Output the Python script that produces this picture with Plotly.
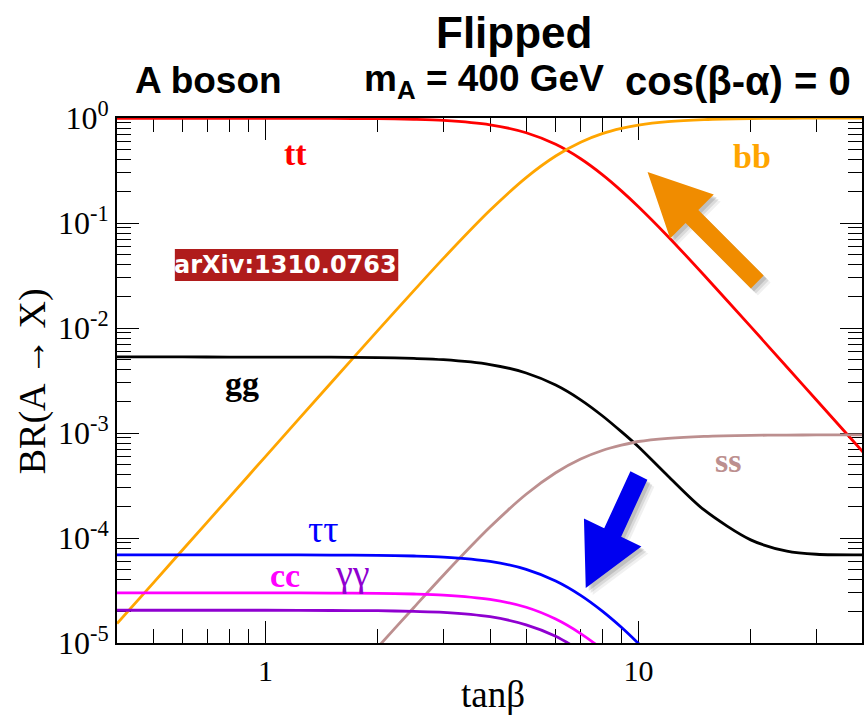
import math
import plotly.graph_objects as go

# ---------------- data ----------------
tanb = [0.4, 0.5, 0.6, 0.8, 1, 1.5, 2, 2.5, 3, 4, 5, 6, 7, 8, 9, 10, 12, 15, 20, 25, 30, 40]
br_tt = [0.994, 0.994, 0.994, 0.994, 0.993, 0.991, 0.985, 0.971, 0.948, 0.862, 0.724, 0.561,
         0.409, 0.289, 0.2025, 0.143, 0.0745, 0.0318, 0.0103, 0.00425, 0.00206, 0.00066]
br_bb = [1.53e-5, 3.72e-5, 7.72e-5, 2.44e-4, 5.96e-4, 3.01e-3, 9.44e-3, 0.0227, 0.046, 0.132,
         0.271, 0.435, 0.588, 0.709, 0.795, 0.856, 0.924, 0.967, 0.989, 0.995, 0.997, 0.998]
br_gg = [5.30e-3, 5.30e-3, 5.30e-3, 5.29e-3, 5.29e-3, 5.27e-3, 5.22e-3, 5.13e-3, 4.99e-3,
         4.49e-3, 3.73e-3, 2.86e-3, 2.07e-3, 1.46e-3, 1.03e-3, 7.4e-4, 3.9e-4, 1.85e-4,
         9.6e-5, 7.5e-5, 7.0e-5, 6.9e-5]

tanb_ss = [1.5, 2, 2.5, 3, 4, 5, 6, 7, 8, 9, 10, 12, 15, 20, 25, 30, 40]
br_ss = [2.9e-6, 9.1e-6, 2.18e-5, 4.42e-5, 1.27e-4, 2.61e-4, 4.18e-4, 5.65e-4, 6.81e-4,
         7.65e-4, 8.3e-4, 8.9e-4, 9.29e-4, 9.50e-4, 9.56e-4, 9.58e-4, 9.59e-4]

tanb_lo = [0.4, 0.5, 0.6, 0.8, 1, 1.5, 2, 2.5, 3, 4, 5, 6, 7, 8, 9, 10, 12]
br_tautau = [6.90e-5, 6.90e-5, 6.90e-5, 6.90e-5, 6.90e-5, 6.88e-5, 6.84e-5, 6.74e-5, 6.58e-5,
             5.99e-5, 5.03e-5, 3.89e-5, 2.84e-5, 2.01e-5, 1.41e-5, 9.9e-6, 5.2e-6]
br_cc = [3.00e-5, 3.00e-5, 3.00e-5, 3.00e-5, 3.00e-5, 2.99e-5, 2.97e-5, 2.93e-5, 2.86e-5,
         2.60e-5, 2.19e-5, 1.69e-5, 1.23e-5, 8.7e-6, 6.1e-6, 4.3e-6, 2.2e-6]
br_gamgam = [2.05e-5, 2.05e-5, 2.05e-5, 2.05e-5, 2.05e-5, 2.04e-5, 2.03e-5, 2.00e-5, 1.96e-5,
             1.78e-5, 1.49e-5, 1.16e-5, 8.4e-6, 6.0e-6, 4.2e-6, 2.9e-6, 1.5e-6]

ytick_vals = [1e-5, 1e-4, 1e-3, 1e-2, 1e-1, 1]
ytick_text = ["10<sup>-5</sup>", "10<sup>-4</sup>", "10<sup>-3</sup>", "10<sup>-2</sup>",
              "10<sup>-1</sup>", "10<sup>0</sup>"]
xtick_vals = [1, 10]
xtick_text = ["1", "10"]

# ---------------- layout geometry ----------------
W, H = 864, 715
L, R, T, B = 117, 864, 118, 643
DECADE_PX = 374.0


def px(x):
    return (x - L) / (R - L)


def py(y):
    return (B - y) / (B - T)


SERIF = "Liberation Serif, Times New Roman, serif"
SANS = "Liberation Sans, Arial, Helvetica, sans-serif"

fig = go.Figure()

series = [
    (tanb, br_tt, "#ff0000", "tt"),
    (tanb, br_bb, "#ffa500", "bb"),
    (tanb, br_gg, "#000000", "gg"),
    (tanb_ss, br_ss, "#bc8f8f", "ss"),
    (tanb_lo, br_tautau, "#0000ff", "ττ"),
    (tanb_lo, br_cc, "#ff00ff", "cc"),
    (tanb_lo, br_gamgam, "#8f00d0", "γγ"),
]
for xs, ys, col, name in series:
    fig.add_trace(go.Scatter(x=xs, y=ys, mode="lines", name=name,
                             line=dict(color=col, width=2.8, shape="spline", smoothing=0.8),
                             showlegend=False))

x0 = math.log10(0.4)
x1 = x0 + (R - L) / DECADE_PX

axis_common = dict(showgrid=False, zeroline=False, showline=True, linecolor="black",
                   linewidth=2, mirror="ticks", ticks="inside", ticklen=22, tickwidth=1.3,
                   tickcolor="black", layer="below traces")
minor_common = dict(ticks="inside", ticklen=14, tickwidth=1.1, tickcolor="black",
                    dtick="D1", showgrid=False)

fig.update_xaxes(type="log", range=[x0, x1], tickvals=xtick_vals, ticktext=xtick_text,
                 minor=minor_common, tickfont=dict(family=SERIF, size=30, color="black"),
                 **axis_common)
fig.update_yaxes(type="log", range=[-5, 0], tickvals=ytick_vals, ticktext=ytick_text,
                 minor=minor_common, tickfont=dict(family=SERIF, size=32, color="black"),
                 **axis_common)


def ann(text, X, Y, size, color="black", family=SERIF, xanchor="center", **kw):
    fig.add_annotation(text=text, x=px(X), y=py(Y), xref="paper", yref="paper",
                       xanchor=xanchor, yanchor="middle", showarrow=False,
                       font=dict(family=family, size=size, color=color), **kw)


# titles
ann("<b>Flipped</b>", 515, 33, 44, family=SANS)
ann("<b>A boson</b>", 209, 81, 37, family=SANS)
ann("<b>m<sub>A</sub> = 400 GeV</b>", 485, 81, 37, family=SANS)
ann("<b>cos(β-α) = 0</b>", 624, 81, 40, family=SANS, xanchor="left")

# axis titles
ann("tanβ", 494, 694, 37)
ann("BR(A → X)", 32, 381, 38, textangle=-90)

# curve labels
ann("<b>tt</b>", 296, 153, 34, color="#ff0000")
ann("<b>bb</b>", 754, 156, 34, color="#ffa500")
ann("<b>gg</b>", 242, 383, 34)
ann("<b>ss</b>", 730, 460, 34, color="#bc8f8f")
ann("ττ", 324, 529, 38, color="#0000ff")
ann("<b>cc</b>", 285, 575, 34, color="#ff00ff")
ann("γγ", 353, 573, 38, color="#8f00d0")

# arXiv tag
fig.add_shape(type="rect", xref="paper", yref="paper", x0=px(175), x1=px(399),
              y0=py(281), y1=py(249), fillcolor="#b01c1c", line=dict(width=0), layer="above")
ann("<b>arXiv:1310.0763</b>", 286, 265, 24, color="white", family="DejaVu Sans, sans-serif")


def poly(points, dx=0.0, dy=0.0):
    parts = []
    for i, (X, Y) in enumerate(points):
        parts.append(("M" if i == 0 else "L") + f"{px(X + dx):.5f},{py(Y + dy):.5f}")
    return " ".join(parts) + " Z"


orange_arrow = [(649, 172), (715.4, 194.6), (699.9, 210.1), (765.4, 275.6), (752.6, 288.4),
                (687.1, 222.9), (671.6, 238.4)]
blue_arrow = [(587, 588), (642.8, 546.5), (622.5, 536.7), (648.8, 479.7), (631.8, 471.3),
              (605.5, 528.3), (585.2, 518.5)]

for pts, col in [(orange_arrow, "#f08c00"), (blue_arrow, "#0000f0")]:
    for k, a in [(7, 0.06), (5, 0.09), (3, 0.12)]:
        fig.add_shape(type="path", xref="paper", yref="paper", path=poly(pts, k, k),
                      fillcolor=f"rgba(0,0,0,{a})", line=dict(width=0), layer="above")
    fig.add_shape(type="path", xref="paper", yref="paper", path=poly(pts),
                  fillcolor=col, line=dict(width=0), layer="above")

fig.update_layout(width=W, height=H, margin=dict(l=L, r=W - R, t=T, b=H - B),
                  paper_bgcolor="white", plot_bgcolor="white", showlegend=False)

fig.write_html("out.html", config={"displayModeBar": False},
               post_script="document.body.style.margin='0px';")
